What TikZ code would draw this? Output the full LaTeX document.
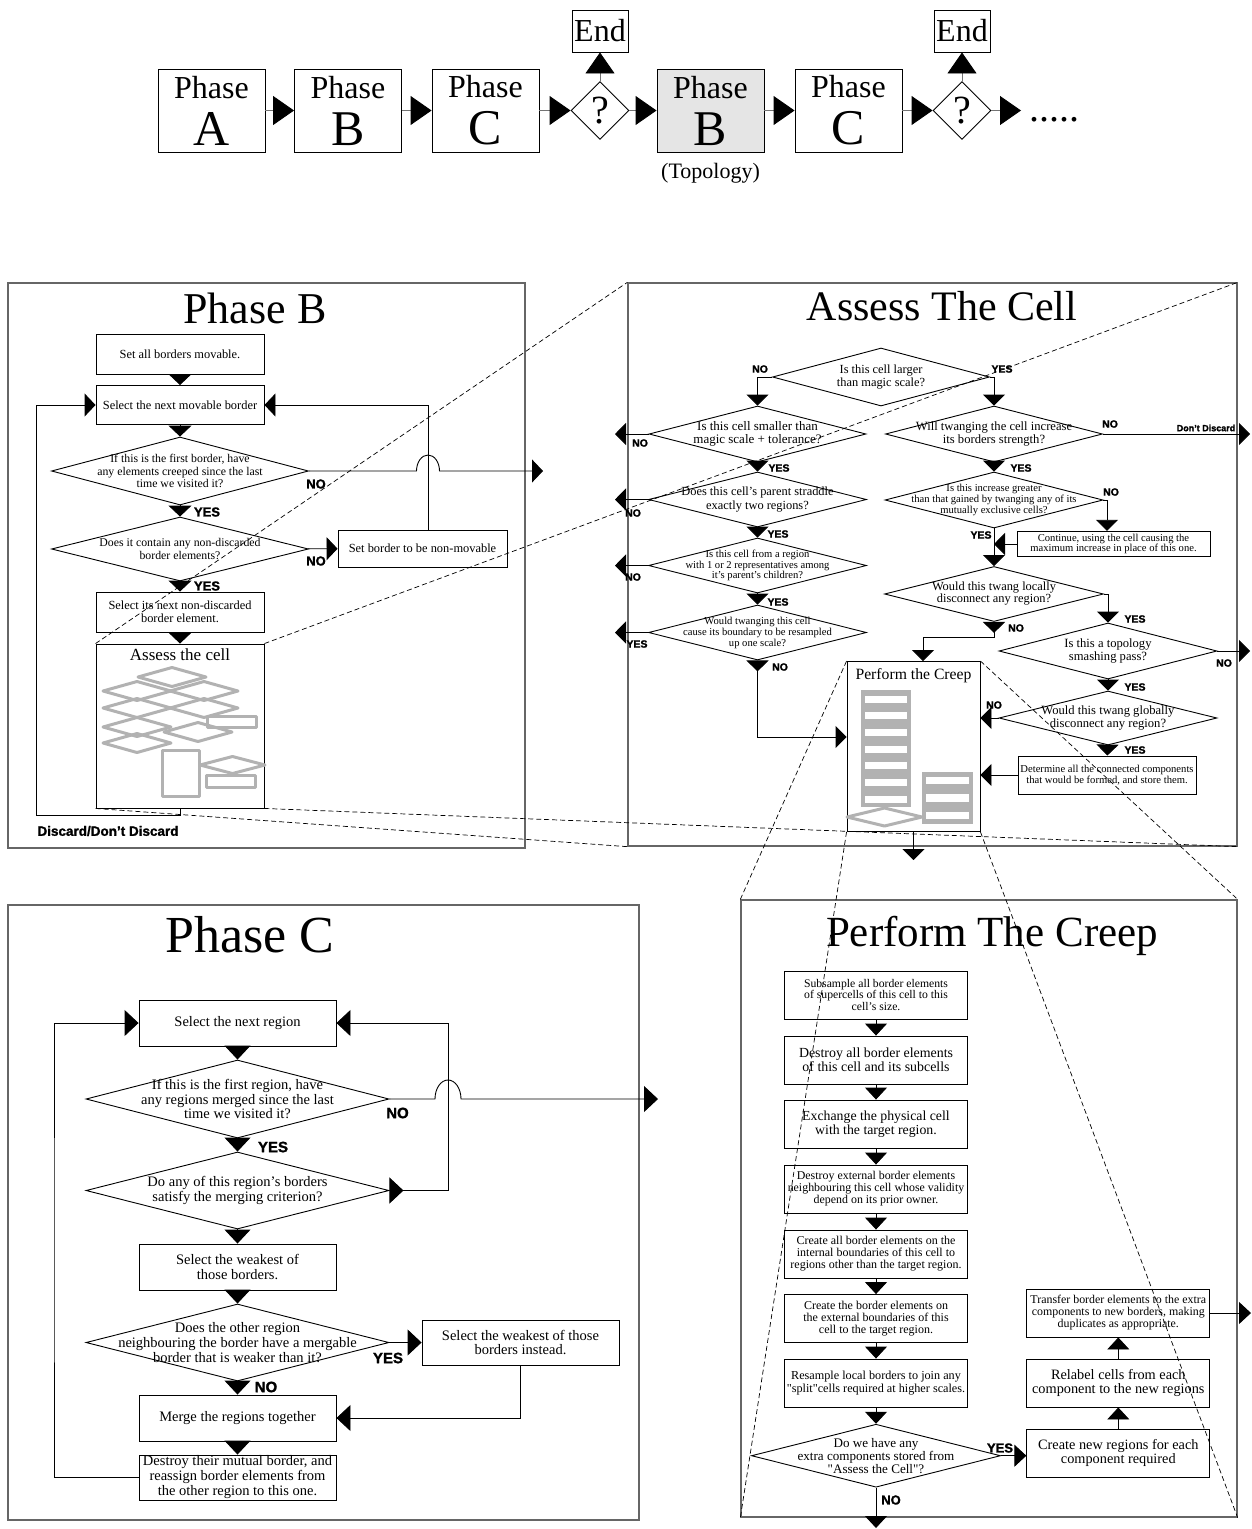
\documentclass[tikz,border=0pt]{standalone}
\usepackage{fontspec}
\setmainfont{Liberation Serif}[Ligatures=TeXOff]
\newfontfamily\labelfont{Liberation Sans}[BoldFeatures={FakeBold=1.5}]
\usepackage{tikz}
\usetikzlibrary{shapes.geometric, arrows.meta, positioning, calc}
\definecolor{thumbgray}{gray}{0.70}
\definecolor{phasefill}{gray}{0.90}
\definecolor{panelline}{gray}{0.40}
\newcommand{\fsz}[2]{\fontsize{#1}{#2}\selectfont}

\begin{document}
\begin{tikzpicture}[x=1pt, y=-1pt, line width=0.9pt,
    topbox/.style={rectangle, draw, minimum width=107, minimum height=83, inner sep=0, align=center, font=\fsz{32}{47}},
    endbox/.style={rectangle, draw, minimum width=56, minimum height=42, inner sep=0, font=\fsz{32}{32}},
    ask/.style={diamond, draw, minimum width=58, minimum height=58, inner sep=0, font=\fsz{40}{40}},
    panel/.style={rectangle, draw=panelline, line width=1.3pt},
    title/.style={anchor=base, inner sep=0},
    stepbox/.style={rectangle, draw, inner sep=0, align=center},
    test/.style={diamond, draw, inner sep=0},
    qtext/.style 2 args={anchor=center, align=center, inner sep=0, font=\fsz{#1}{#2}},
    yn/.style={inner sep=0, font=\labelfont\bfseries\fsz{#1}{#1}},
    pbstep/.style={stepbox, minimum width=168, minimum height=39, font=\fsz{12.4}{13}},
    acstep/.style={stepbox, font=\fsz{10.6}{10.5}},
    pcstep/.style={stepbox, minimum width=197, minimum height=46, font=\fsz{14.5}{14.8}},
    ptstep/.style={stepbox, minimum width=183, minimum height=48},
    tri/.style 2 args={-{Triangle[length=#1, width=#2]}},
    outtri/.style 2 args={{Triangle[reversed, length=#1, width=#2]}-{Triangle[length=#1, width=#2]}},
    toparr/.style={draw=black!55, -{Triangle[length=21pt, width=29pt, color=black]}},
    pbarr/.style={tri={11pt}{23pt}},
    acarr/.style={tri={11pt}{22pt}},
    acout/.style={outtri={11pt}{22pt}},
    pcarr/.style={tri={14pt}{26pt}},
    pcout/.style={outtri={14pt}{26pt}},
    ptarr/.style={tri={12pt}{22pt}},
    thumb/.style={draw=thumbgray, line width=3pt, line join=round},
    zoomline/.style={line width=0.7pt, dash pattern=on 5pt off 3pt}
]
\useasboundingbox (0,0) rectangle (1252,1529);

% Overview of the phases
\node[topbox] (phA) at (211.5,110.5) {Phase\\\fsz{50}{47}A};
\node[topbox] (phB) at (348,110.5) {Phase\\\fsz{50}{47}B};
\node[topbox] (phC) at (485.5,110.5) {Phase\\\fsz{50}{47}C};
\node[ask] (qA) at (600,110.5) {?};
\node[endbox] (endA) at (600,31) {End};
\node[topbox, fill=phasefill] (phB2) at (710.5,110.5) {Phase\\\fsz{50}{47}B};
\node[topbox] (phC2) at (848.5,110.5) {Phase\\\fsz{50}{47}C};
\node[ask] (qB) at (962,110.5) {?};
\node[endbox] (endB) at (962,31) {End};
\node[anchor=base west, inner sep=0, font=\fsz{40}{40}] (more) at (1029,121) {.....};
\node[inner sep=0, font=\fsz{22}{22}] (topo) at (710.5,173) {(Topology)};
\coordinate (moreIn) at (1021,110.5);

\draw[toparr] (phA) -- (phB);
\draw[toparr] (phB) -- (phC);
\draw[toparr] (phC) -- (qA);
\draw[toparr] (qA) -- (endA);
\draw[toparr] (qA) -- (phB2);
\draw[toparr] (phB2) -- (phC2);
\draw[toparr] (phC2) -- (qB);
\draw[toparr] (qB) -- (endB);
\draw[toparr] (qB) -- (moreIn);

% Phase B
\node[panel, minimum width=517, minimum height=565] (pbPanel) at (266.5,565.5) {};
\node[title, font=\fsz{44}{44}] (pbTitle) at (255,323) {Phase B};
\node[pbstep, minimum height=40] (pbSet) at (180,354) {Set all borders movable.};
\node[pbstep] (pbSel) at (180,405) {Select the next movable border};
\node[test, minimum width=257, minimum height=68, label={[qtext={11.8}{12.5}]center:{If this is the first border, have\\any elements creeped since the last\\time we visited it?}}] (pbD1) at (180,471) {};
\node[test, minimum width=257, minimum height=64, label={[qtext={11.8}{12.5}]center:{Does it contain any non-discarded\\border elements?}}] (pbD2) at (180,549) {};
\node[pbstep, minimum width=169, minimum height=37] (pbNon) at (422.5,548.5) {Set border to be non-movable};
\node[pbstep, minimum height=40] (pbElem) at (180,612) {Select its next non-discarded\\border element.};
\node[pbstep, minimum height=164, label={[inner sep=0, anchor=north, yshift=-5pt, font=\fsz{17}{17}]north:Assess the cell}] (pbAssess) at (180,726) {};

% thumbnail of the cell test
\foreach \cx/\cy in {172/677, 137/691, 204/691, 137/708, 204/708, 137/727, 198/732, 137/743}
  \draw[thumb] (\cx-34,\cy) -- (\cx,\cy-9.5) -- (\cx+34,\cy) -- (\cx,\cy+9.5) -- cycle;
\draw[thumb] (207,716) rectangle (256,727);
\draw[thumb] (162,750) rectangle (199,796);
\draw[thumb] (200,765) -- (232.5,756.5) -- (265,765) -- (232.5,773.5) -- cycle;
\draw[thumb] (206,775) rectangle (255,787);

\coordinate (pbLoop) at (36,815);
\coordinate (pbHop) at (428,471);
\coordinate (pbExit) at (543,471);
\draw[pbarr] (pbSet) -- (pbSel);
\draw[pbarr] (pbSel) -- (pbD1);
\draw[pbarr] (pbD1) -- (pbD2);
\draw[pbarr] (pbD2) -- (pbElem);
\draw[pbarr] (pbElem) -- (pbAssess);
\draw[pbarr] (pbD2) -- (pbNon);
\draw[pbarr] ($(pbNon.north)+(5.5,0)$) |- (pbSel);
\draw[pbarr] (pbAssess.south) |- (pbLoop) |- (pbSel.west);
\draw[pbarr] (pbD1.east) -- ($(pbHop)+(-11.5,0)$) arc[start angle=180, end angle=0, x radius=11.5pt, y radius=16pt] -- (pbExit);

\node[yn=13] (pbNo1) at (316,484) {NO};
\node[yn=13] (pbYes1) at (207,512) {YES};
\node[yn=13] (pbNo2) at (316,561) {NO};
\node[yn=13] (pbYes2) at (207,586) {YES};
\node[yn=13.5] (pbDisc) at (108,831) {Discard/Don’t Discard};

% Assess the cell
\node[panel, minimum width=609, minimum height=563] (acPanel) at (932.5,564.5) {};
\node[title, font=\fsz{42}{42}] (acTitle) at (942,320) {Assess The Cell};
\node[test, minimum width=217, minimum height=58, label={[qtext={12.4}{13.5}]center:{Is this cell larger\\than magic scale?}}] (acD1) at (881,377) {};
\node[test, minimum width=217, minimum height=56, label={[qtext={13}{13.3}]center:{Is this cell smaller than\\magic scale + tolerance?}}] (acD2) at (757.5,434) {};
\node[test, minimum width=217, minimum height=56, label={[qtext={12.6}{13.3}]center:{Will twanging the cell increase\\its borders strength?}}] (acD3) at (994,434) {};
\node[test, minimum width=218, minimum height=55, label={[qtext={12.4}{13.5}]center:{Does this cell’s parent straddle\\exactly two regions?}}] (acD4) at (757.5,499.5) {};
\node[test, minimum width=218, minimum height=55, label={[qtext={10.6}{10.2}]center:{Is this cell from a region\\with 1 or 2 representatives among\\it’s parent’s children?}}] (acD5) at (757.5,565.5) {};
\node[test, minimum width=218, minimum height=55, label={[qtext={10.6}{11}]center:{Would twanging this cell\\cause its boundary to be resampled\\up one scale?}}] (acD6) at (757.5,632.5) {};
\node[test, minimum width=218, minimum height=56, label={[qtext={10.6}{10.8}]center:{Is this increase greater\\than that gained by twanging any of its\\mutually exclusive cells?}}] (acD7) at (994,500) {};
\node[acstep, minimum width=193, minimum height=25.5] (acCont) at (1113.5,544) {Continue, using the cell causing the\\maximum increase in place of this one.};
\node[test, minimum width=219, minimum height=55, label={[qtext={12.4}{12}]center:{Would this twang locally\\disconnect any region?}}] (acD8) at (994,594) {};
\node[test, minimum width=218, minimum height=56, label={[qtext={12.6}{13.3}]center:{Is this a topology\\smashing pass?}}] (acD9) at (1108,651) {};
\node[test, minimum width=218, minimum height=54, label={[qtext={12.6}{13.3}]center:{Would this twang globally\\disconnect any region?}}] (acD10) at (1108,718) {};
\node[acstep, minimum width=178, minimum height=38, font=\fsz{10.6}{11.7}] (acDet) at (1107,775) {Determine all the connected components\\that would be formed, and store them.};
\node[stepbox, minimum width=133, minimum height=170, label={[inner sep=0, anchor=north, yshift=-7pt, font=\fsz{15.7}{15.7}]north:Perform the Creep}] (acPerf) at (913.5,746.5) {};

% thumbnail of the creep
\fill[thumbgray] (861,690) rectangle (911,807);
\foreach \k in {0,...,6}
  \fill[white] (864.5,695.5+16.7*\k) rectangle (907,702.5+16.7*\k);
\fill[thumbgray] (922,772) rectangle (973,824);
\foreach \k in {0,1,2}
  \fill[white] (926,776.5+17.5*\k) rectangle (968.5,784+17.5*\k);
\draw[thumb] (847,817) -- (884.5,808) -- (922,817) -- (884.5,826) -- cycle;

\coordinate (acLeft) at (615,0);
\coordinate (acRight) at (1250,0);
\coordinate (acDown) at (913.5,860);
\draw[acarr] (acD1.west) -| (acD2.north);
\draw[acarr] (acD1.east) -| (acD3.north);
\draw[acarr] (acD2) -- (acD4);
\draw[acarr] (acD4) -- (acD5);
\draw[acarr] (acD5) -- (acD6);
\draw[acarr] (acD3) -- (acD7);
\draw[acarr] (acD7) -- (acD8);
\draw[acarr] (acD9) -- (acD10);
\draw[acarr] (acD10) -- (acDet);
\draw[acarr] (acD2.west) -- (acD2.west -| acLeft);
\draw[acarr] (acD4.west) -- (acD4.west -| acLeft);
\draw[acarr] (acD5.west) -- (acD5.west -| acLeft);
\draw[acarr] (acD6.west) -- (acD6.west -| acLeft);
\draw[acarr] (acD3.east) -- (acD3.east -| acRight);
\draw[acarr] (acD9.east) -- (acD9.east -| acRight);
\draw[acarr] (acD7.east) -| ($(acCont.north)+(-6.5,0)$);
\draw[acarr] (acCont.west) -- (acCont.west -| acD7.south);
\draw[acarr] (acD8.east) -| (acD9.north);
\draw[acout] (acD8.south) -- ++(0,15) -| ($(acPerf.north)+(9.5,0)$);
\draw[acout] (acD6.south) |- ($(acPerf.west)+(0,-9.5)$);
\draw[acarr] (acD10.west) -- (acPerf.east |- acD10.west);
\draw[acarr] (acDet.west) -- (acPerf.east |- acDet.west);
\draw[acarr] (acPerf.south) -- (acDown);

\node[yn=10.5] (acNo1) at (760,369) {NO};
\node[yn=10.5] (acYes1) at (1002,369) {YES};
\node[yn=10.5] (acNo2) at (640,443) {NO};
\node[yn=10.5] (acNo3) at (1110,424) {NO};
\node[yn=9] (acKeep) at (1206,428) {Don’t Discard};
\node[yn=10.5] (acYes2) at (779,468) {YES};
\node[yn=10.5] (acYes3) at (1021,468) {YES};
\node[yn=10.5] (acNo4) at (633,513) {NO};
\node[yn=10.5] (acNo5) at (1111,492) {NO};
\node[yn=10.5] (acYes4) at (778,534) {YES};
\node[yn=10.5] (acYes5) at (981,535) {YES};
\node[yn=10.5] (acNo6) at (633,577) {NO};
\node[yn=10.5] (acYes6) at (778,602) {YES};
\node[yn=10.5] (acYes7) at (1135,619) {YES};
\node[yn=10.5] (acNo7) at (1016,628) {NO};
\node[yn=10.5] (acYes8) at (637,644) {YES};
\node[yn=10.5] (acNo8) at (780,667) {NO};
\node[yn=10.5] (acNo9) at (1224,663) {NO};
\node[yn=10.5] (acYes9) at (1135,687) {YES};
\node[yn=10.5] (acNo10) at (994,705) {NO};
\node[yn=10.5] (acYes10) at (1135,750) {YES};

% Phase C
\node[panel, minimum width=631, minimum height=615] (pcPanel) at (323.5,1212.5) {};
\node[title, font=\fsz{52}{52}] (pcTitle) at (250,952) {Phase C};
\node[pcstep] (pcSel) at (237.5,1023) {Select the next region};
\node[test, minimum width=303, minimum height=78, label={[qtext={14.5}{14.6}]center:{If this is the first region, have\\any regions merged since the last\\time we visited it?}}] (pcD1) at (237.5,1099) {};
\node[test, minimum width=303, minimum height=77, label={[qtext={14.5}{14.7}]center:{Do any of this region’s borders\\satisfy the merging criterion?}}] (pcD2) at (237.5,1190.5) {};
\node[pcstep] (pcWeak) at (237.5,1267) {Select the weakest of\\those borders.};
\node[test, minimum width=303, minimum height=77, label={[qtext={14.5}{15}]center:{Does the other region\\neighbouring the border have a mergable\\border that is weaker than it?}}] (pcD3) at (237.5,1342.5) {};
\node[pcstep, minimum height=45] (pcInst) at (520.5,1342.5) {Select the weakest of those\\borders instead.};
\node[pcstep] (pcMerge) at (237.5,1418) {Merge the regions together};
\node[pcstep, minimum height=45, font=\fsz{14.5}{15}] (pcDest) at (237.5,1477.5) {Destroy their mutual border, and\\reassign border elements from\\the other region to this one.};

\coordinate (pcLoop) at (54,1250);
\coordinate (pcHop) at (448,1099);
\coordinate (pcExit) at (658,1099);
\draw[pcarr] (pcSel) -- (pcD1);
\draw[pcarr] (pcD1) -- (pcD2);
\draw[pcarr] (pcD2) -- (pcWeak);
\draw[pcarr] (pcWeak) -- (pcD3);
\draw[pcarr] (pcD3) -- (pcMerge);
\draw[pcarr] (pcMerge) -- (pcDest);
\draw[pcarr] (pcD3) -- (pcInst);
\draw[pcarr] (pcInst.south) |- (pcMerge.east);
\draw[pcout] (pcD2.east) -| ($(pcSel.east)+(112,0)$) -- (pcSel.east);
\draw[pcarr] (pcDest.west) -| (pcLoop) |- (pcSel.west);
\draw[pcarr] (pcD1.east) -- ($(pcHop)+(-13,0)$) arc[start angle=180, end angle=0, x radius=13pt, y radius=19pt] -- (pcExit);

\node[yn=15] (pcNo1) at (397.5,1113) {NO};
\node[yn=15] (pcYes1) at (273,1147) {YES};
\node[yn=15] (pcYes2) at (388,1358) {YES};
\node[yn=15] (pcNo2) at (266,1387) {NO};

% Perform the creep
\node[panel, minimum width=496, minimum height=617] (ptPanel) at (989,1208.5) {};
\node[title, font=\fsz{43}{43}] (ptTitle) at (992,946) {Perform The Creep};
\node[ptstep, font=\fsz{11.7}{11.5}] (ptSub) at (876,995) {Subsample all border elements\\of supercells of this cell to this\\cell’s size.};
\node[ptstep, font=\fsz{13.9}{14}] (ptDes) at (876,1060) {Destroy all border elements\\of this cell and its subcells};
\node[ptstep, font=\fsz{13.8}{14}] (ptExc) at (876,1124) {Exchange the physical cell\\with the target region.};
\node[ptstep, font=\fsz{11.9}{12}] (ptExt) at (876,1189) {Destroy external border elements\\neighbouring this cell whose validity\\depend on its prior owner.};
\node[ptstep, font=\fsz{12}{12}] (ptInt) at (876,1254) {Create all border elements on the\\internal boundaries of this cell to\\regions other than the target region.};
\node[ptstep, font=\fsz{12}{12}] (ptOwn) at (876,1318.5) {Create the border elements on\\the external boundaries of this\\cell to the target region.};
\node[ptstep, font=\fsz{12.2}{12.5}] (ptRes) at (876,1383) {Resample local borders to join any\\"split"cells required at higher scales.};
\node[test, minimum width=249, minimum height=63, label={[qtext={13.1}{13}]center:{Do we have any\\extra components stored from\\"Assess the Cell"?}}] (ptAny) at (876,1455.7) {};
\node[ptstep, font=\fsz{14.3}{14.3}] (ptNew) at (1118.3,1453) {Create new regions for each\\component required};
\node[ptstep, font=\fsz{14.3}{14.3}] (ptRel) at (1118.3,1383) {Relabel cells from each\\component to the new regions};
\node[ptstep, font=\fsz{11.9}{12}] (ptTra) at (1118.3,1313) {Transfer border elements to the extra\\components to new borders, making\\duplicates as appropriate.};

\coordinate (ptOut) at (1251,1313);
\coordinate (ptDown) at (876,1528);
\draw[ptarr] (ptSub) -- (ptDes);
\draw[ptarr] (ptDes) -- (ptExc);
\draw[ptarr] (ptExc) -- (ptExt);
\draw[ptarr] (ptExt) -- (ptInt);
\draw[ptarr] (ptInt) -- (ptOwn);
\draw[ptarr] (ptOwn) -- (ptRes);
\draw[ptarr] (ptRes) -- (ptAny);
\draw[ptarr] (ptAny.east) -- (ptAny.east -| ptNew.west);
\draw[ptarr] (ptNew) -- (ptRel);
\draw[ptarr] (ptRel) -- (ptTra);
\draw[ptarr] (ptTra.east) -- (ptOut);
\draw[ptarr] (ptAny.south) -- (ptDown);

\node[yn=13] (ptYes) at (1000,1448) {YES};
\node[yn=13] (ptNo) at (891,1500) {NO};

% Zoom lines
\draw[zoomline] (pbAssess.north west) -- (acPanel.north west);
\draw[zoomline] (pbAssess.north east) -- (acPanel.north east);
\draw[zoomline] (pbAssess.south west) -- (acPanel.south west);
\draw[zoomline] (pbAssess.south east) -- (acPanel.south east);
\draw[zoomline] (acPerf.north west) -- (ptPanel.north west);
\draw[zoomline] (acPerf.north east) -- (ptPanel.north east);
\draw[zoomline] (acPerf.south west) -- (ptPanel.south west);
\draw[zoomline] (acPerf.south east) -- (ptPanel.south east);

\end{tikzpicture}
\end{document}
